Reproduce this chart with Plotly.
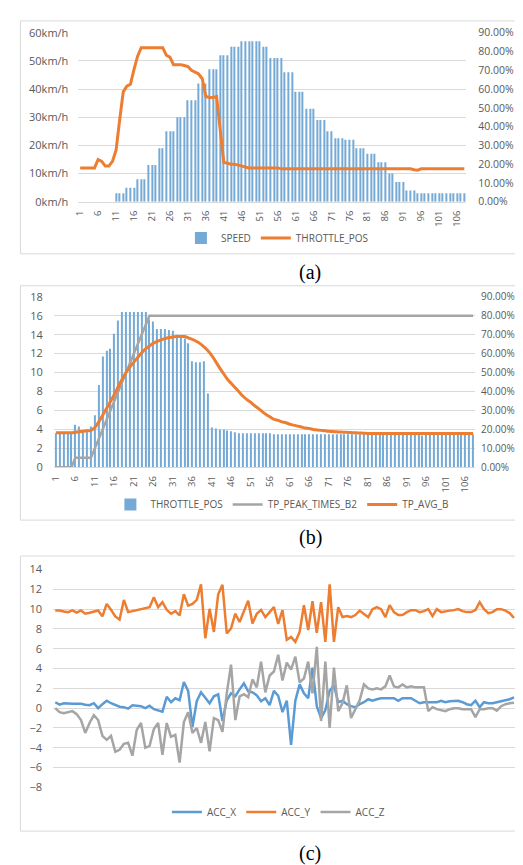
import plotly.graph_objects as go

W, H = 523, 865

# ---------------- data ----------------
CAT = list(range(1, 109))
TICK_CATS = list(range(1, 109, 5))

SPEED = ([0] * 10 + [3] * 3 + [5] * 3 + [8] * 3 + [13] * 3 + [19] * 2 + [25] * 3 + [30] * 3 +
         [36] * 3 + [42] * 3 + [47] * 3 + [52] * 3 + [55] * 3 + [57] * 6 + [55] * 2 + [51] * 4 +
         [46] * 3 + [39] * 3 + [33] * 3 + [29] * 3 + [25] * 2 + [22.5] * 3 + [22] * 3 + [19] * 3 +
         [17] * 3 + [14] * 3 + [10] * 2 + [7] * 3 + [4] * 3 + [3] * 14)

THROTTLE_POS = [0.18, 0.18, 0.18, 0.18, 0.18, 0.225, 0.215, 0.19, 0.19, 0.215,
                0.275, 0.435, 0.585, 0.615, 0.625, 0.705, 0.775, 0.82, 0.82, 0.82,
                0.82, 0.82, 0.82, 0.82, 0.78, 0.77, 0.73, 0.73, 0.73, 0.725,
                0.72, 0.70, 0.69, 0.68, 0.655, 0.56, 0.555, 0.555, 0.56, 0.39,
                0.21, 0.205, 0.20, 0.20, 0.195, 0.19, 0.185, 0.18, 0.18, 0.18,
                0.18, 0.18, 0.18, 0.18, 0.18, 0.18] + [0.175] * 37 + [0.17, 0.168] + [0.175] * 13

TP_PEAK_TIMES_B2 = [0, 0, 0, 0, 0, 1, 1, 1, 1, 1, 2, 3, 4, 5, 6, 7, 8, 9, 10, 11,
                    12, 13, 14, 15, 16] + [16] * 83

TP_AVG_B = [3.65, 3.65, 3.65, 3.65, 3.65, 3.7, 3.75, 3.8, 3.85, 3.9,
            4.2, 4.8, 5.5, 6.2, 6.95, 7.7, 8.5, 9.3, 10.0, 10.6,
            11.1, 11.6, 12.1, 12.5, 12.8, 13.1, 13.3, 13.45, 13.6, 13.7,
            13.75, 13.8, 13.8, 13.8, 13.65, 13.5, 13.3, 13.05, 12.7, 12.3,
            11.8, 11.15, 10.5, 9.9, 9.3, 8.85, 8.4, 7.95, 7.5, 7.15,
            6.85, 6.5, 6.2, 5.85, 5.55, 5.3, 5.05, 4.95, 4.8, 4.7,
            4.55, 4.45, 4.35, 4.25, 4.15, 4.1, 4.0, 3.95, 3.9, 3.85,
            3.8, 3.78, 3.75, 3.72, 3.7, 3.68, 3.66, 3.64, 3.62, 3.6] + [3.57] * 28

ACC_X = [0.6, 0.35, 0.5, 0.45, 0.45, 0.45, 0.45, 0.35, 0.3, 0.5,
         0.0, 0.4, 0.75, 0.5, 0.3, 0.15, 0.1, -0.05, 0.3, 0.25,
         0.2, 0.0, 0.25, -0.1, -0.2, -0.35, 1.15, 0.6, 1.0, 0.8,
         2.65, 1.75, -1.9, 0.7, 1.6, 1.0, 0.5, 1.2, 1.4, -1.3,
         0.8, 1.5, 1.2, 1.9, 2.5, 1.7, 1.6, 1.3, 0.7, 1.0,
         0.3, 1.75, 1.25, -0.4, 0.75, -3.7, 0.75, 2.4, 1.5, 1.0,
         4.1, 0.2, -1.0, -0.2, 1.75, 2.3, 0.6, 0.75, 0.4, 0.2,
         0.1, 0.4, 0.6, 0.9, 0.75, 0.9, 1.0, 1.0, 1.0, 1.0,
         0.75, 1.0, 1.0, 1.0, 0.75, 0.5, 0.6, 0.6, 0.6, 0.6,
         0.75, 0.6, 0.7, 0.75, 0.75, 0.6, 0.4, 0.3, 0.75, 0.1,
         0.6, 0.5, 0.5, 0.6, 0.7, 0.75, 0.9, 1.1]

ACC_Y = [9.87, 9.87, 9.77, 9.7, 9.87, 9.64, 9.87, 9.54, 9.64, 9.77,
         9.87, 9.27, 10.53, 9.93, 9.27, 8.94, 10.93, 9.7, 9.8, 9.93,
         10.03, 10.1, 10.2, 11.19, 10.2, 10.7, 9.93, 9.54, 9.8, 9.37,
         11.5, 10.36, 10.53, 10.93, 12.5, 7.06, 10.03, 7.7, 11.5, 12.45,
         7.55, 8.05, 9.54, 8.7, 9.87, 10.86, 8.55, 9.54, 9.93, 9.2,
         9.7, 10.2, 8.5, 9.9, 6.9, 7.2, 6.7, 7.7, 10.4, 7.9,
         10.8, 7.6, 10.7, 6.7, 12.5, 6.7, 10.2, 9.2, 9.3, 9.2,
         9.4, 9.85, 9.5, 9.2, 10.0, 10.2, 10.0, 9.2, 10.4, 9.7,
         9.4, 9.4, 9.7, 9.9, 9.9, 9.7, 9.8, 10.0, 9.3, 10.0,
         9.7, 9.8, 9.85, 9.9, 10.0, 9.8, 9.7, 9.7, 9.9, 10.7,
         10.0, 9.6, 9.7, 10.0, 10.0, 9.85, 9.6, 9.1]

ACC_Z = [0.0, -0.4, -0.5, -0.4, -0.3, -0.6, -1.2, -2.5, -1.5, -0.7,
         -1.2, -2.8, -3.2, -2.8, -4.4, -4.2, -3.6, -3.5, -4.8, -2.2,
         -1.5, -4.0, -3.8, -2.1, -1.5, -4.7, -1.5, -2.9, -2.7, -5.5,
         -1.4, -0.4, -2.5, -2.0, -3.5, -1.4, -4.35, -1.0, -1.2, -2.4,
         1.5, 4.4, -1.2, 1.2, 1.4, 1.1, 2.9, 2.1, 4.7, 1.6,
         3.3, 3.7, 5.4, 2.8, 4.6, 3.9, 5.2, 2.6, 3.0, 4.7,
         1.5, 6.2, -1.3, 4.7, -2.0, 4.1, -0.3, 0.5, 2.3, -1.0,
         -0.1, 0.8, 2.4, 2.0, 1.9, 2.0, 1.9, 2.2, 3.3, 2.2,
         2.1, 2.4, 2.1, 2.2, 2.1, 2.1, 2.1, -0.3, 0.1, -0.1,
         -0.2, -0.3, -0.1, 0.0, 0.0, -0.1, -0.1, -0.1, -0.9, -0.1,
         -0.1, 0.0, 0.0, -0.25, 0.2, 0.4, 0.5, 0.55]
ACC_IDX = list(range(1, len(ACC_X) + 1))

# ---------------- style ----------------
BLUE_BAR = "#76aad6"
BLUE = "#5b9bd5"
ORANGE = "#ed7d31"
GREY = "#a5a5a5"
GRID = "#d9d9d9"
TXT = "#595959"
FONT = "Open Sans"


def px(p):
    return p / W


def py(p):
    return 1 - p / H


fig = go.Figure()

# (a)
fig.add_trace(go.Bar(x=CAT, y=SPEED, name="SPEED", marker=dict(color=BLUE_BAR, line_width=0),
                     xaxis="x", yaxis="y", legend="legend"))
fig.add_trace(go.Scatter(x=CAT, y=THROTTLE_POS, name="THROTTLE_POS", mode="lines",
                         line=dict(color=ORANGE, width=3), xaxis="x", yaxis="y2", legend="legend"))
# (b)
fig.add_trace(go.Bar(x=CAT, y=THROTTLE_POS, name="THROTTLE_POS", marker=dict(color=BLUE_BAR, line_width=0),
                     xaxis="x2", yaxis="y3", legend="legend2"))
fig.add_trace(go.Scatter(x=CAT, y=TP_PEAK_TIMES_B2, name="TP_PEAK_TIMES_B2", mode="lines",
                         line=dict(color=GREY, width=2.5), xaxis="x2", yaxis="y4", legend="legend2"))
fig.add_trace(go.Scatter(x=CAT, y=TP_AVG_B, name="TP_AVG_B", mode="lines", line_shape="spline",
                         line=dict(color=ORANGE, width=3), xaxis="x2", yaxis="y4", legend="legend2"))
# (c)
for name, vals, col in [("ACC_X", ACC_X, BLUE), ("ACC_Y", ACC_Y, ORANGE), ("ACC_Z", ACC_Z, GREY)]:
    fig.add_trace(go.Scatter(x=ACC_IDX, y=vals, name=name, mode="lines",
                             line=dict(color=col, width=2.5), xaxis="x3", yaxis="y5", legend="legend3"))

tick_font = dict(family=FONT, size=11, color=TXT)
rt_font = dict(family=FONT, size=10.5, color=TXT)
rt_font_b = dict(family=FONT, size=10, color=TXT)
xt_font = dict(family=FONT, size=9.5, color=TXT)

leg_common = dict(orientation="h", xanchor="center", yanchor="middle", font=dict(family=FONT, size=10, color=TXT),
                  bgcolor="rgba(0,0,0,0)", itemwidth=30, tracegroupgap=0)

fig.update_layout(
    width=W, height=H, margin=dict(l=0, r=0, t=0, b=0),
    paper_bgcolor="white", plot_bgcolor="white",
    bargap=0.7,
    font=dict(family=FONT, color=TXT),
    # (a)
    xaxis=dict(domain=[px(66), px(457.5)], anchor="y", range=[0.5, 108.5], tickmode="array",
               tickvals=TICK_CATS, tickangle=-90, tickfont=xt_font, showgrid=False, zeroline=False,
               ticklabelstandoff=4, showline=True, linecolor=GRID),
    yaxis=dict(domain=[py(189), py(17)], anchor="x", range=[0, 60], dtick=10, ticksuffix="km/h",
               gridcolor=GRID, zeroline=False, tickfont=tick_font, ticklabelstandoff=9),
    yaxis2=dict(overlaying="y", side="right", anchor="x", range=[0, 0.9], dtick=0.1, tickformat=".2%",
                showgrid=False, zeroline=False, tickfont=rt_font, ticklabelstandoff=11),
    # (b)
    xaxis2=dict(domain=[px(41.3), px(466.5)], anchor="y3", range=[0.5, 108.5], tickmode="array",
                tickvals=TICK_CATS, tickangle=-90, tickfont=xt_font, showgrid=False, zeroline=False,
                ticklabelstandoff=4, showline=True, linecolor=GRID),
    yaxis3=dict(domain=[py(459.3), py(285.7)], anchor="x2", side="right", range=[0, 0.9], dtick=0.1,
                tickformat=".2%", gridcolor=GRID, zeroline=False, tickfont=rt_font_b, ticklabelstandoff=5),
    yaxis4=dict(overlaying="y3", side="left", anchor="x2", range=[0, 18], dtick=2, showgrid=False,
                zeroline=False, tickfont=tick_font, ticklabelstandoff=10),
    # (c)
    xaxis3=dict(domain=[px(40.5), px(508)], anchor="y5", range=[0.5, 108.5], showticklabels=False,
                showgrid=False, zeroline=False),
    yaxis5=dict(domain=[py(785), py(563.3)], anchor="x3", range=[-8, 14], dtick=2, gridcolor=GRID,
                zeroline=False, tickfont=tick_font, ticklabelstandoff=10),
    legend=dict(x=px(267), y=py(226), **leg_common),
    legend2=dict(x=px(272), y=py(497), **leg_common),
    legend3=dict(x=px(268), y=py(810), **leg_common),
    showlegend=True,
)

# chart borders
for top, bottom in [(5, 242), (274.5, 513), (549.5, 829.5)]:
    fig.add_shape(type="rect", xref="paper", yref="paper", x0=px(7.5), x1=px(518.5), y0=py(bottom), y1=py(top),
                  line=dict(color=GRID, width=1), fillcolor="rgba(0,0,0,0)", layer="below")

# captions
for label, ycen in [("(a)", 261), ("(b)", 531), ("(c)", 852)]:
    fig.add_annotation(text=label, xref="paper", yref="paper", x=px(300), y=py(ycen), showarrow=False,
                       xanchor="center", yanchor="middle",
                       font=dict(family="Liberation Serif", size=20, color="black"))

fig.write_html("out.html")
